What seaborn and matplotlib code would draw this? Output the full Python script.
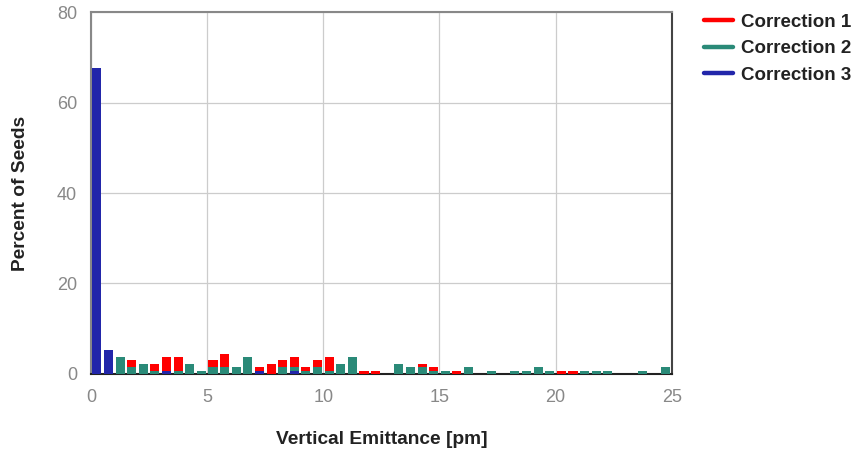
import numpy as np
import pandas as pd
import matplotlib
matplotlib.use("Agg")
import matplotlib.pyplot as plt
import seaborn as sns
from matplotlib.lines import Line2D

# Bin left edges (0.5 pm wide bins), values in percent of seeds
bin_left = [i * 0.5 for i in range(50)]

corr1 = [0, 0, 0, 3.0, 0, 2.3, 3.7, 3.7, 0, 0,
         3.0, 4.4, 0, 0, 1.5, 2.3, 3.0, 3.7, 1.5, 3.0,
         3.7, 0, 0, 0.7, 0.7, 0, 0, 0, 2.3, 1.5,
         0, 0.7, 0, 0, 0, 0, 0, 0, 0, 0,
         0.7, 0.7, 0, 0, 0, 0, 0, 0, 0, 0]
corr2 = [0, 0, 3.7, 1.5, 2.3, 0.7, 0, 0.7, 2.3, 0.7,
         1.5, 1.5, 1.5, 3.7, 0, 0, 1.5, 1.5, 0.7, 1.5,
         0.7, 2.3, 3.7, 0, 0, 0, 2.3, 1.5, 1.5, 0.7,
         0.7, 0, 1.5, 0, 0.7, 0, 0.7, 0.7, 1.5, 0.7,
         0, 0, 0.7, 0.7, 0.7, 0, 0, 0.7, 0, 1.5]
corr3 = [67.6, 5.2, 0, 0, 0, 0, 0.7, 0, 0, 0,
         0, 0, 0, 0, 0.7, 0, 0, 0.7, 0, 0,
         0, 0, 0, 0, 0, 0, 0, 0, 0, 0,
         0, 0, 0, 0, 0, 0, 0, 0, 0, 0,
         0, 0, 0, 0, 0, 0, 0, 0, 0, 0]

labels = ["Correction 1", "Correction 2", "Correction 3"]
colors = ["#FF0000", "#2A8A78", "#2226AA"]
xticks = [0, 5, 10, 15, 20, 25]
yticks = [0, 20, 40, 60, 80]

sns.set_theme(style="white")
plt.rcParams['font.family'] = ['Liberation Sans', 'DejaVu Sans']

fig = plt.figure(figsize=(8.59, 4.53), dpi=100)
ax = fig.add_axes([0.106, 0.1744, 0.676, 0.7991])

centers = [b + 0.25 for b in bin_left]
edges = list(bin_left) + [bin_left[-1] + 0.5]
for vals, lab, col in zip([corr1, corr2, corr3], labels, colors):
    df = pd.DataFrame({"x": centers, "w": vals})
    sns.histplot(data=df, x="x", weights="w", bins=edges, shrink=0.78,
                 color=col, alpha=1.0, linewidth=0,
                 ax=ax, zorder=3)

ax.set_xlim(0, 25)
ax.set_ylim(0, 80)
ax.set_xticks(xticks)
ax.set_yticks(yticks)
ax.grid(True, color="#cccccc", linewidth=0.9, zorder=0)
ax.set_axisbelow(True)
ax.tick_params(axis="y", labelsize=13, colors="#888888", length=0, pad=10)
ax.tick_params(axis="x", labelsize=13, colors="#888888", length=0, pad=11)
ax.set_xlabel("Vertical Emittance [pm]", fontsize=13.8, fontweight="bold",
              color="#222222", labelpad=18)
ax.set_ylabel("Percent of Seeds", fontsize=13.8, fontweight="bold",
              color="#222222", labelpad=20)
for side in ["left", "top"]:
    ax.spines[side].set_color("#888888")
    ax.spines[side].set_linewidth(1.5)
ax.spines["bottom"].set_color("#222222")
ax.spines["bottom"].set_linewidth(1.5)
ax.spines["right"].set_color("#444444")
ax.spines["right"].set_linewidth(1.5)

handles = [Line2D([0], [0], color=c, lw=3.2) for c in colors]
leg = fig.legend(handles, labels, loc="upper left", bbox_to_anchor=(0.813, 0.982),
                 frameon=False, handlelength=1.55, handletextpad=0.45,
                 labelspacing=0.5, borderaxespad=0, borderpad=0.3,
                 prop={"weight": "bold", "size": 13.5})
for t in leg.get_texts():
    t.set_color("#222222")

fig.savefig("out.png", dpi=100)
